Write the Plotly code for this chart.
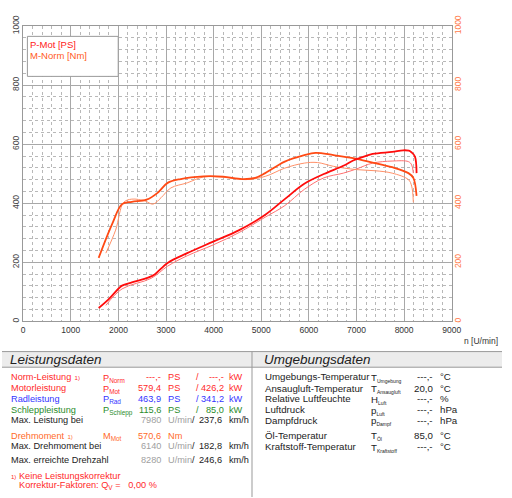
import plotly.graph_objects as go

# ---------------- data ----------------
p_mot_rpm = [1585, 1804, 2009, 2077, 2282, 2624, 2761, 3034, 3444, 3991, 4537, 5084, 5494, 5904, 6314, 6724, 6931, 7067, 7339, 7749, 7980, 8100, 8159, 8228, 8262]
p_mot_val = [45, 76, 112, 121, 132, 148, 159, 198, 231, 270, 309, 361, 414, 466, 499, 527, 545, 553, 567, 574, 579.4, 578, 572, 558, 502]

p_ref_rpm = [1736, 2077, 2692, 3034, 3444, 3991, 4537, 5084, 5494, 5904, 6314, 6724, 6997, 7339, 7749, 8091, 8159, 8194]
p_ref_val = [54, 110, 146, 187, 222, 259, 301, 353, 392, 447, 486, 502, 516, 536, 543, 541, 530, 502]

m_norm_rpm = [1585, 1872, 2077, 2282, 2590, 2829, 3034, 3307, 3786, 4200, 4600, 4874, 5084, 5494, 5904, 6140, 6519, 6929, 7339, 7749, 8091, 8194, 8262]
m_norm_val = [215, 331, 397, 405, 412, 436, 469, 482, 491, 490, 482, 486, 502, 541, 563, 570.6, 563, 553, 538, 522, 502, 486, 425]

m_ref_rpm = [1736, 1941, 2111, 2282, 2556, 2726, 2897, 3102, 3444, 3786, 4200, 4674, 5084, 5494, 5904, 6177, 6519, 6997, 7400, 7749, 8091, 8159, 8194]
m_ref_val = [231, 309, 403, 414, 408, 397, 419, 452, 469, 489, 488, 480, 491, 519, 536, 538, 525, 514, 510, 502, 480, 458, 403]

x_ticks = [0, 1000, 2000, 3000, 4000, 5000, 6000, 7000, 8000, 9000]
y_ticks = [0, 200, 400, 600, 800, 1000]

legend_labels = ["P-Mot [PS]", "M-Norm [Nm]"]

leist_labels = ["Norm-Leistung", "Motorleistung", "Radleistung", "Schleppleistung"]
leist_subs = ["Norm", "Mot", "Rad", "Schlepp"]
leist_ps = ["---,-", "579,4", "463,9", "115,6"]
leist_kw = ["---,-", "426,2", "341,2", "85,0"]
leist_colors = ["#ff2a2a", "#ff2a2a", "#3434ff", "#2a8c2a"]

max_labels = ["Max. Leistung bei", "Max. Drehmoment bei", "Max. erreichte Drehzahl"]
max_rpm = ["7980", "6140", "8280"]
max_kmh = ["237,6", "182,8", "246,6"]

umg_labels = ["Umgebungs-Temperatur", "Ansaugluft-Temperatur", "Relative Luftfeuchte", "Luftdruck", "Dampfdruck", "Öl-Temperatur", "Kraftstoff-Temperatur"]
umg_sym = ["T", "T", "H", "p", "p", "T", "T"]
umg_subs = ["Umgebung", "Ansaugluft", "Luft", "Luft", "Dampf", "Öl", "Kraftstoff"]
umg_vals = ["---,-", "20,0", "---,-", "---,-", "---,-", "85,0", "---,-"]
umg_units = ["°C", "°C", "%", "hPa", "hPa", "°C", "°C"]

# ---------------- figure ----------------
W, H = 512, 498
FONT = "Liberation Sans, Arial, sans-serif"

def px(x):
    return x / W

def py(y):
    return 1 - y / H

fig = go.Figure()
fig.add_trace(go.Scatter(x=p_ref_rpm, y=p_ref_val, mode="lines", line=dict(color="#ff7070", width=1, shape="spline"), hoverinfo="skip"))
fig.add_trace(go.Scatter(x=m_ref_rpm, y=m_ref_val, mode="lines", line=dict(color="#ff9068", width=1, shape="spline"), hoverinfo="skip"))
fig.add_trace(go.Scatter(x=m_norm_rpm, y=m_norm_val, mode="lines", line=dict(color="#ff4a14", width=1.8, shape="spline"), hoverinfo="skip"))
fig.add_trace(go.Scatter(x=p_mot_rpm, y=p_mot_val, mode="lines", line=dict(color="#ff0c0c", width=1.8, shape="spline"), hoverinfo="skip"))
fig.add_trace(go.Scatter(x=[0], y=[0], yaxis="y2", mode="markers", marker=dict(opacity=0), hoverinfo="skip"))

x0, x1 = 21.7, 460.5
y0, y1 = 318, 15.5

grid_major = "#a8a8a8"
grid_minor = "#b8b8b8"

fig.update_layout(
    width=W, height=H,
    margin=dict(l=0, r=0, t=0, b=0),
    paper_bgcolor="white", plot_bgcolor="white",
    showlegend=False,
    font=dict(family=FONT, size=9, color="#333"),
    xaxis=dict(
        domain=[px(x0), px(x1)], range=[0, 9000], tickvals=x_ticks,
        showgrid=True, gridcolor=grid_major, gridwidth=1,
        minor=dict(dtick=200, showgrid=True, gridcolor=grid_minor, griddash="3px,3px", gridwidth=1),
        showline=True, linecolor="#999", linewidth=1, mirror=True,
        ticks="", tickfont=dict(size=8.5, color="#333"), zeroline=False,
    ),
    yaxis=dict(
        domain=[py(y0), py(y1)], range=[0, 1000], tickvals=y_ticks,
        showgrid=True, gridcolor=grid_major, gridwidth=1,
        minor=dict(dtick=40, showgrid=True, gridcolor=grid_minor, griddash="3px,3px", gridwidth=1),
        showline=True, linecolor="#999", linewidth=1, mirror=True,
        ticks="", tickangle=-90, tickfont=dict(size=8.5, color="#444"), zeroline=False,
    ),
    yaxis2=dict(
        overlaying="y", side="right", range=[0, 1000], tickvals=y_ticks,
        showgrid=False, ticks="", tickangle=-90, tickfont=dict(size=8.5, color="#ff7a4a"),
        zeroline=False, showline=False,
    ),
)

shapes = []
shapes.append(dict(type="rect", xref="paper", yref="paper", x0=px(26), x1=px(119), y0=py(67), y1=py(26),
                   line=dict(color="#999", width=1), fillcolor="white", layer="above"))
shapes.append(dict(type="rect", xref="paper", yref="paper", x0=0, x1=1, y0=py(365), y1=py(349),
                   line=dict(width=0), fillcolor="#ececec", layer="below"))
shapes.append(dict(type="line", xref="paper", yref="paper", x0=0, x1=1, y0=py(349), y1=py(349), line=dict(color="#999", width=1)))
shapes.append(dict(type="line", xref="paper", yref="paper", x0=0, x1=1, y0=py(365), y1=py(365), line=dict(color="#999", width=1)))
shapes.append(dict(type="line", xref="paper", yref="paper", x0=px(256), x1=px(256), y0=py(349), y1=0, line=dict(color="#999", width=1)))
fig.update_layout(shapes=shapes)

ann = []

def T(x, y, text, color="#222", size=9, anchor="left", italic=False):
    ann.append(dict(xref="paper", yref="paper", x=px(x), y=py(y), text=text, showarrow=False,
                    xanchor=anchor, yanchor="middle", borderpad=0,
                    font=dict(family=FONT, size=size, color=color, style="italic" if italic else "normal")))

T(28, 34.5, legend_labels[0], color="#ff2020", size=9.5)
T(28, 46, legend_labels[1], color="#ff5a24", size=9.5)
T(472, 338, "n [U/min]", color="#333", size=8.5)

T(7, 357.5, "Leistungsdaten", color="#222", size=13.5, italic=True)
T(267, 357.5, "Umgebungsdaten", color="#222", size=13.5, italic=True)

SUP = '<span style="font-size:6px">  1)</span>'
LS = 9.2
RS = 9.7

rows_y = [375.5, 386.5, 397.5, 408.5]
for i in range(4):
    c = leist_colors[i]
    lab = leist_labels[i] + (SUP if i == 0 else "")
    T(8, rows_y[i], lab, color=c, size=LS)
    T(102, rows_y[i] + 1, "P<sub>" + leist_subs[i] + "</sub>", color=c, size=LS)
    T(164, rows_y[i], leist_ps[i], color=c, anchor="right", size=LS)
    T(169, rows_y[i], "PS", color=c, size=LS)
    T(203, rows_y[i], "/", color=c, anchor="right", size=LS)
    T(228, rows_y[i], leist_kw[i], color=c, anchor="right", size=LS)
    T(231, rows_y[i], "kW", color=c, size=LS)

max_y = [419.5, 446, 460.5]
for i in range(3):
    T(8, max_y[i], max_labels[i], color="#222", size=LS)
    T(164, max_y[i], max_rpm[i], color="#a0a0a0", anchor="right", size=LS)
    T(169, max_y[i], "U/min", color="#a0a0a0", size=LS)
    T(194, max_y[i], "/", color="#222", size=LS)
    T(226, max_y[i], max_kmh[i], color="#222", anchor="right", size=LS)
    T(231, max_y[i], "km/h", color="#222", size=LS)

orange = "#ff6a2a"
T(8, 435, "Drehmoment" + SUP, color=orange, size=LS)
T(102, 436, "M<sub>Mot</sub>", color=orange, size=LS)
T(164, 435, "570,6", color=orange, anchor="right", size=LS)
T(169, 435, "Nm", color=orange, size=LS)

T(8, 476, '<span style="font-size:6px">1)</span> Keine Leistungskorrektur', color="#ff2a2a", size=LS)
T(16, 486.5, "Korrektur-Faktoren: Q<sub>V</sub> =   0,00 %", color="#ff2a2a", size=LS)

umg_y = [375, 386.5, 397.5, 408.5, 419.5, 435, 446.5]
for i in range(7):
    T(268, umg_y[i], umg_labels[i], color="#222", size=RS)
    T(377, umg_y[i] + 1, umg_sym[i] + '<sub><span style="font-size:5px">' + umg_subs[i] + "</span></sub>", color="#222", size=RS)
    T(442, umg_y[i], umg_vals[i], color="#222", anchor="right", size=RS)
    T(447, umg_y[i], umg_units[i], color="#222", size=RS)

fig.update_layout(annotations=ann)
fig.write_html("out.html", config={"displayModeBar": False},
               post_script="document.body.style.margin='0';document.body.style.overflow='hidden';")
